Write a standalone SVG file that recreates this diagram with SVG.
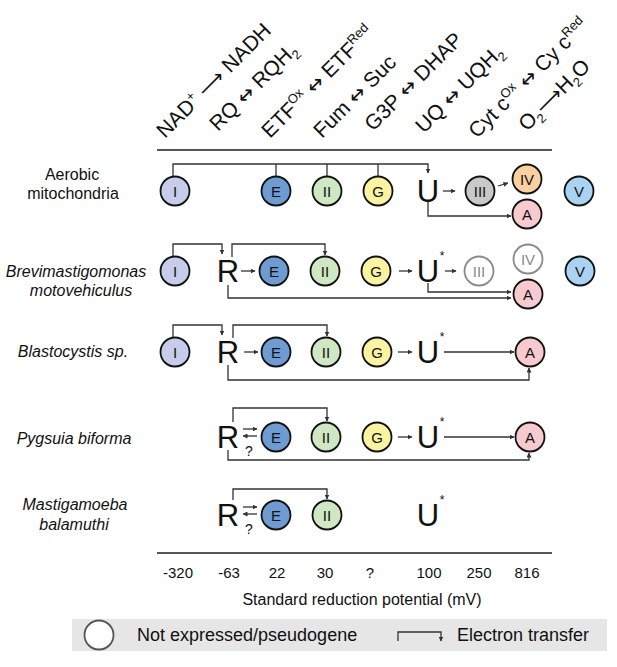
<svg xmlns="http://www.w3.org/2000/svg" width="617" height="667" viewBox="0 0 617 667">
<style>
text{font-family:"Liberation Sans",Arial,sans-serif;fill:#111}
.lab{font-size:21px}
.ar{font-family:"DejaVu Sans",sans-serif;font-size:20px}
.sm{font-size:13px}
.row{font-size:16px;text-anchor:middle}
.it{font-style:italic}
.cl{font-size:15px;text-anchor:middle}
.big{font-size:31px;text-anchor:middle}
.ast{font-size:12px;text-anchor:middle}
.q{font-size:14px;text-anchor:middle}
.ax{font-size:15px;text-anchor:middle}
.c{stroke:#111;stroke-width:1.8}
.ne{fill:#fff;stroke:#8a8a8a;stroke-width:1.8}
.net{fill:#8a8a8a}
.cI{fill:#c6cce9}.cE{fill:#6e9bd2}.cII{fill:#cfe7c2}.cG{fill:#faf4a2}
.cIII{fill:#c9c9c9}.cIV{fill:#f9d0a0}.cA{fill:#f7cad0}.cV{fill:#aad3f1}
.ln{fill:none;stroke:#333;stroke-width:1.3}
.axl{stroke:#555;stroke-width:2}
.lg{font-size:18px}
</style>
<defs>
<marker id="ah" markerUnits="userSpaceOnUse" markerWidth="5" markerHeight="5" refX="4.5" refY="2.5" orient="auto">
<path d="M0,0 L5,2.5 L0,5 z" fill="#333"/>
</marker>
</defs>

<g id="header">
<text class="lab" transform="translate(165,139) rotate(-45)">NAD<tspan class="sm" dy="-8">+</tspan><tspan dy="8"> <tspan class="ar">⟶</tspan> NADH</tspan></text>
<text class="lab" transform="translate(218,132) rotate(-45)">RQ <tspan class="ar">↔</tspan> RQH<tspan class="sm" dy="5">2</tspan></text>
<text class="lab" transform="translate(270,139) rotate(-45)">ETF<tspan class="sm" dy="-8">Ox</tspan><tspan dy="8"> <tspan class="ar">↔</tspan> ETF</tspan><tspan class="sm" dy="-8">Red</tspan></text>
<text class="lab" transform="translate(322,139) rotate(-45)">Fum <tspan class="ar">↔</tspan> Suc</text>
<text class="lab" transform="translate(373,132) rotate(-45)">G3P  <tspan class="ar">↔</tspan> DHAP</text>
<text class="lab" transform="translate(424,134) rotate(-45)">UQ <tspan class="ar">↔</tspan> UQH<tspan class="sm" dy="5">2</tspan></text>
<text class="lab" transform="translate(477,139) rotate(-45)">Cyt c<tspan class="sm" dy="-8">Ox</tspan><tspan dy="8">  <tspan class="ar">↔</tspan> Cy c</tspan><tspan class="sm" dy="-8">Red</tspan></text>
<text class="lab" transform="translate(527,132) rotate(-45)">O<tspan class="sm" dy="5">2</tspan><tspan dy="-5"><tspan class="ar">⟶</tspan>H</tspan><tspan class="sm" dy="5">2</tspan><tspan dy="-5">O</tspan></text>
<line class="axl" x1="157" y1="150" x2="552" y2="150"/>
</g>

<g id="row-labels">
<text class="row" x="72" y="180">Aerobic</text>
<text class="row" x="73" y="199">mitochondria</text>
<text class="row it" x="76" y="277">Brevimastigomonas</text>
<text class="row it" x="81" y="296">motovehiculus</text>
<text class="row it" x="73" y="357">Blastocystis sp.</text>
<text class="row it" x="74" y="444">Pygsuia biforma</text>
<text class="row it" x="75" y="510">Mastigamoeba</text>
<text class="row it" x="74" y="530">balamuthi</text>
</g>

<g id="connectors">
<path class="ln" d="M173,176 V164 H428 V173" marker-end="url(#ah)"/>
<path class="ln" d="M276,164 V176 M327,164 V176 M378,164 V176"/>
<path class="ln" d="M443,191 H455" marker-end="url(#ah)"/>
<path class="ln" d="M498,186 L508,183" marker-end="url(#ah)"/>
<path class="ln" d="M428,201 V216 H511" marker-end="url(#ah)"/>
<path class="ln" d="M173,256 V244 H222 V254" marker-end="url(#ah)"/>
<path class="ln" d="M232,257 V244 H325 V255" marker-end="url(#ah)"/>
<path class="ln" d="M241,271 H255" marker-end="url(#ah)"/>
<path class="ln" d="M399,271 H412" marker-end="url(#ah)"/>
<path class="ln" d="M445,271 H456" marker-end="url(#ah)"/>
<path class="ln" d="M428,283 V292 H511" marker-end="url(#ah)"/>
<path class="ln" d="M228,285 V298 H511" marker-end="url(#ah)"/>
<path class="ln" d="M173,337 V325 H222 V335" marker-end="url(#ah)"/>
<path class="ln" d="M233,338 V325 H327 V336" marker-end="url(#ah)"/>
<path class="ln" d="M244,352 H258" marker-end="url(#ah)"/>
<path class="ln" d="M398,352 H412" marker-end="url(#ah)"/>
<path class="ln" d="M444,352 H514" marker-end="url(#ah)"/>
<path class="ln" d="M228,365 V380 H529 V368" marker-end="url(#ah)"/>
<path class="ln" d="M233,422 V408 H327 V421" marker-end="url(#ah)"/>
<path class="ln" d="M243,429 H257" marker-end="url(#ah)"/>
<path class="ln" d="M257,436 H243" marker-end="url(#ah)"/>
<path class="ln" d="M398,437 H412" marker-end="url(#ah)"/>
<path class="ln" d="M444,437 H514" marker-end="url(#ah)"/>
<path class="ln" d="M228,450 V460 H529 V453" marker-end="url(#ah)"/>
<path class="ln" d="M233,500 V489 H327 V499" marker-end="url(#ah)"/>
<path class="ln" d="M243,507 H257" marker-end="url(#ah)"/>
<path class="ln" d="M257,514 H243" marker-end="url(#ah)"/>
</g>

<g id="row1">
<g id="r1-I"><circle class="c cI" cx="175" cy="191" r="14.5"/><text class="cl" x="175" y="196.5">I</text></g>
<g id="r1-E"><circle class="c cE" cx="276" cy="191" r="14.5"/><text class="cl" x="276" y="196.5">E</text></g>
<g id="r1-II"><circle class="c cII" cx="327" cy="191" r="14.5"/><text class="cl" x="327" y="196.5">II</text></g>
<g id="r1-G"><circle class="c cG" cx="378" cy="191" r="14.5"/><text class="cl" x="378" y="196.5">G</text></g>
<g id="r1-U"><text class="big" x="428" y="202">U</text></g>
<g id="r1-III"><circle class="c cIII" cx="480" cy="191" r="14.5"/><text class="cl" x="480" y="196.5">III</text></g>
<g id="r1-IV"><circle class="c cIV" cx="527" cy="179" r="14.5"/><text class="cl" x="527" y="184.5">IV</text></g>
<g id="r1-A"><circle class="c cA" cx="527" cy="214" r="14.5"/><text class="cl" x="527" y="219.5">A</text></g>
<g id="r1-V"><circle class="c cV" cx="579" cy="191" r="14.5"/><text class="cl" x="579" y="196.5">V</text></g>
</g>

<g id="row2">
<g id="r2-I"><circle class="c cI" cx="175" cy="271" r="14.5"/><text class="cl" x="175" y="276.5">I</text></g>
<g id="r2-R"><text class="big" x="228" y="282">R</text></g>
<g id="r2-E"><circle class="c cE" cx="274" cy="271" r="14.5"/><text class="cl" x="274" y="276.5">E</text></g>
<g id="r2-II"><circle class="c cII" cx="325" cy="271" r="14.5"/><text class="cl" x="325" y="276.5">II</text></g>
<g id="r2-G"><circle class="c cG" cx="376" cy="271" r="14.5"/><text class="cl" x="376" y="276.5">G</text></g>
<g id="r2-U"><text class="big" x="428" y="282">U</text><text class="ast" x="442" y="260">*</text></g>
<g id="r2-III"><circle class="ne" cx="479" cy="271" r="14.5"/><text class="cl net" x="479" y="276.5">III</text></g>
<g id="r2-IV"><circle class="ne" cx="528" cy="259" r="14.5"/><text class="cl net" x="528" y="264.5">IV</text></g>
<g id="r2-A"><circle class="c cA" cx="528" cy="294" r="14.5"/><text class="cl" x="528" y="299.5">A</text></g>
<g id="r2-V"><circle class="c cV" cx="580" cy="271" r="14.5"/><text class="cl" x="580" y="276.5">V</text></g>
</g>

<g id="row3">
<g id="r3-I"><circle class="c cI" cx="175" cy="352" r="14.5"/><text class="cl" x="175" y="357.5">I</text></g>
<g id="r3-R"><text class="big" x="228" y="363">R</text></g>
<g id="r3-E"><circle class="c cE" cx="276" cy="352" r="14.5"/><text class="cl" x="276" y="357.5">E</text></g>
<g id="r3-II"><circle class="c cII" cx="326" cy="352" r="14.5"/><text class="cl" x="326" y="357.5">II</text></g>
<g id="r3-G"><circle class="c cG" cx="377" cy="352" r="14.5"/><text class="cl" x="377" y="357.5">G</text></g>
<g id="r3-U"><text class="big" x="428" y="363">U</text><text class="ast" x="442" y="341">*</text></g>
<g id="r3-A"><circle class="c cA" cx="530" cy="352" r="14.5"/><text class="cl" x="530" y="357.5">A</text></g>
</g>

<g id="row4">
<g id="r4-R"><text class="big" x="228" y="448">R</text><text class="q" x="249" y="456">?</text></g>
<g id="r4-E"><circle class="c cE" cx="276" cy="437" r="14.5"/><text class="cl" x="276" y="442.5">E</text></g>
<g id="r4-II"><circle class="c cII" cx="326" cy="437" r="14.5"/><text class="cl" x="326" y="442.5">II</text></g>
<g id="r4-G"><circle class="c cG" cx="377" cy="437" r="14.5"/><text class="cl" x="377" y="442.5">G</text></g>
<g id="r4-U"><text class="big" x="428" y="448">U</text><text class="ast" x="442" y="426">*</text></g>
<g id="r4-A"><circle class="c cA" cx="530" cy="437" r="14.5"/><text class="cl" x="530" y="442.5">A</text></g>
</g>

<g id="row5">
<g id="r5-R"><text class="big" x="228" y="526">R</text><text class="q" x="249" y="534">?</text></g>
<g id="r5-E"><circle class="c cE" cx="276" cy="515" r="14.5"/><text class="cl" x="276" y="520.5">E</text></g>
<g id="r5-II"><circle class="c cII" cx="327" cy="515" r="14.5"/><text class="cl" x="327" y="520.5">II</text></g>
<g id="r5-U"><text class="big" x="428" y="526">U</text><text class="ast" x="442" y="504">*</text></g>
</g>

<g id="axis">
<line class="axl" x1="157" y1="553" x2="552" y2="553"/>
<text class="ax" x="178" y="578">-320</text>
<text class="ax" x="229" y="578">-63</text>
<text class="ax" x="277" y="578">22</text>
<text class="ax" x="325" y="578">30</text>
<text class="ax" x="370" y="578">?</text>
<text class="ax" x="429" y="578">100</text>
<text class="ax" x="479" y="578">250</text>
<text class="ax" x="527" y="578">816</text>
<text class="row" x="362" y="605" font-size="18">Standard reduction potential (mV)</text>
</g>

<g id="legend">
<rect x="72" y="619" width="535" height="32" fill="#e6e6e6"/>
<circle cx="99" cy="635" r="14.5" fill="#fff" stroke="#555" stroke-width="1.8"/>
<text class="lg" x="137" y="641">Not expressed/pseudogene</text>
<path class="ln" d="M398,641 V632 H441 V641" marker-end="url(#ah)"/>
<text class="lg" x="457" y="641">Electron transfer</text>
</g>
</svg>
